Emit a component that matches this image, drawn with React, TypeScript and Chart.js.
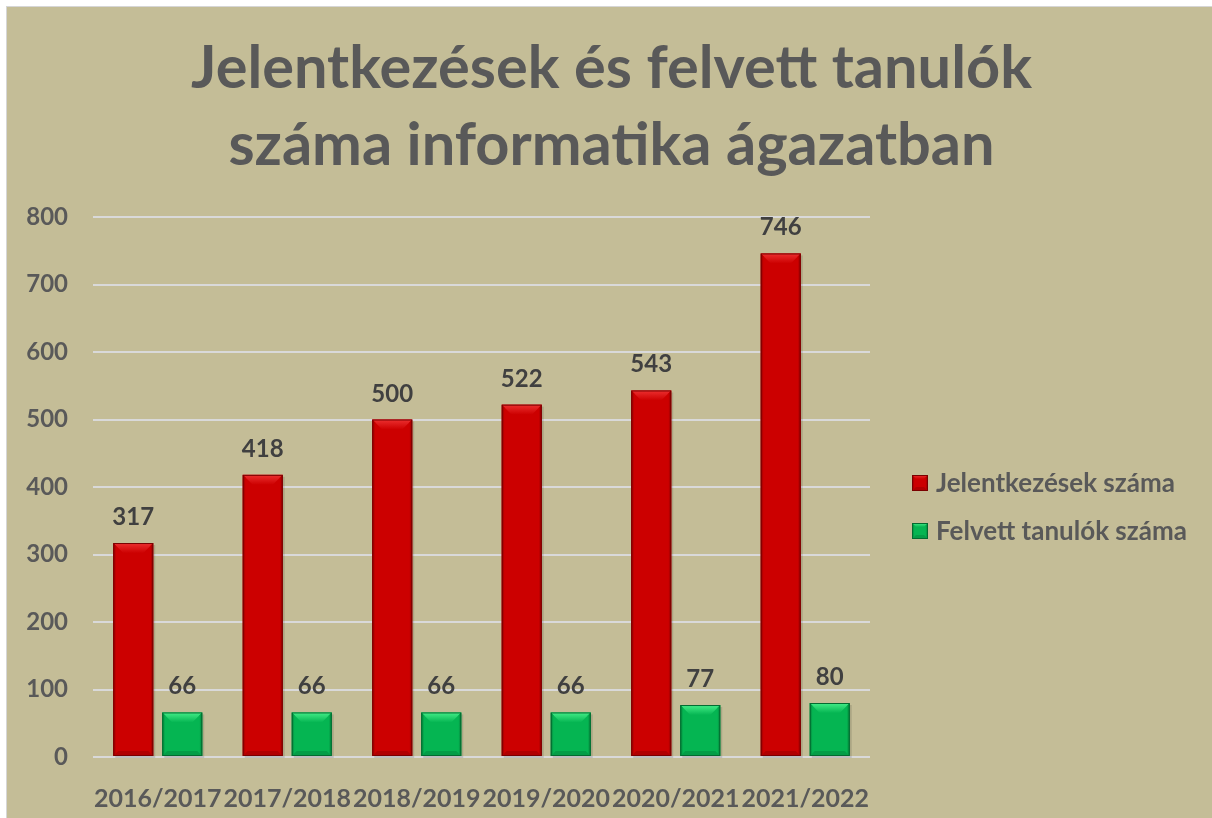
import React, { useEffect, useRef } from "react";
import { Chart, registerables } from "chart.js";

Chart.register(...registerables);

const categories = ["2016/2017", "2017/2018", "2018/2019", "2019/2020", "2020/2021", "2021/2022"];
const applications = [317, 418, 500, 522, 543, 746];
const admitted = [66, 66, 66, 66, 77, 80];
const seriesNames = ["Jelentkezések száma", "Felvett tanulók száma"];
const titleLines = ["Jelentkezések és felvett tanulók", "száma informatika ágazatban"];
const yMax = 800;
const yStep = 100;

const FONT = "Lato, 'Open Sans', sans-serif";
const TEXT = "#595959";
const LABEL = "#404040";

const palettes = [
  { body: "#cc0000", light: "#ec3030", dark: "#8f0000", edge: "#7a0000" },
  { body: "#05b552", light: "#45ee88", dark: "#04813a", edge: "#036b30" },
];

function drawBevelRect(ctx: CanvasRenderingContext2D, x0: number, y0: number, x1: number, y1: number, p: any) {
  const w = x1 - x0;
  const h = y1 - y0;
  const b = Math.min(10, w / 4, h / 3);
  ctx.save();
  ctx.fillStyle = p.body;
  ctx.fillRect(x0, y0, w, h);
  // top bevel
  const gt = ctx.createLinearGradient(0, y0, 0, y0 + b);
  gt.addColorStop(0, p.light);
  gt.addColorStop(1, p.body);
  ctx.fillStyle = gt;
  ctx.beginPath();
  ctx.moveTo(x0, y0);
  ctx.lineTo(x1, y0);
  ctx.lineTo(x1 - b, y0 + b);
  ctx.lineTo(x0 + b, y0 + b);
  ctx.closePath();
  ctx.fill();
  // side shading
  const s = Math.min(3, w / 6);
  const gl = ctx.createLinearGradient(x0, 0, x0 + s, 0);
  gl.addColorStop(0, p.dark);
  gl.addColorStop(1, p.body);
  ctx.fillStyle = gl;
  ctx.beginPath();
  ctx.moveTo(x0, y0);
  ctx.lineTo(x0 + s, y0 + s);
  ctx.lineTo(x0 + s, y1 - s);
  ctx.lineTo(x0, y1);
  ctx.closePath();
  ctx.fill();
  const gr = ctx.createLinearGradient(x1 - s, 0, x1, 0);
  gr.addColorStop(0, p.body);
  gr.addColorStop(1, p.dark);
  ctx.fillStyle = gr;
  ctx.beginPath();
  ctx.moveTo(x1, y0);
  ctx.lineTo(x1 - s, y0 + s);
  ctx.lineTo(x1 - s, y1 - s);
  ctx.lineTo(x1, y1);
  ctx.closePath();
  ctx.fill();
  // bottom bevel
  const bb = Math.min(5, h / 4);
  ctx.globalAlpha = 0.45;
  ctx.fillStyle = p.dark;
  ctx.beginPath();
  ctx.moveTo(x0, y1);
  ctx.lineTo(x1, y1);
  ctx.lineTo(x1 - bb, y1 - bb);
  ctx.lineTo(x0 + bb, y1 - bb);
  ctx.closePath();
  ctx.fill();
  ctx.globalAlpha = 1;
  ctx.strokeStyle = p.edge;
  ctx.lineWidth = 1;
  ctx.strokeRect(x0 + 0.5, y0 + 0.5, w - 1, h - 1);
  ctx.restore();
}

const bevelPlugin = {
  id: "bevelBars",
  afterDatasetsDraw(chart: any) {
    const ctx = chart.ctx;
    chart.data.datasets.forEach((ds: any, di: number) => {
      const meta = chart.getDatasetMeta(di);
      meta.data.forEach((bar: any, i: number) => {
        const { x, y, base, width } = bar.getProps(["x", "y", "base", "width"], true);
        const x0 = x - width / 2;
        const x1 = x + width / 2;
        ctx.save();
        ctx.fillStyle = "rgba(0,0,0,0.12)";
        ctx.fillRect(x0 + 2, y + 2, width, base - y);
        ctx.restore();
        drawBevelRect(ctx, x0, y, x1, base, palettes[di]);
        ctx.save();
        ctx.font = `bold 24px ${FONT}`;
        ctx.fillStyle = LABEL;
        ctx.textAlign = "center";
        ctx.textBaseline = "alphabetic";
        ctx.fillText(String(ds.data[i]), x, y - 18);
        ctx.restore();
      });
    });
  },
  afterDraw(chart: any) {
    const ctx = chart.ctx;
    // title
    ctx.save();
    ctx.font = `bold 59.5px ${FONT}`;
    ctx.fillStyle = TEXT;
    ctx.textAlign = "center";
    ctx.textBaseline = "alphabetic";
    const cx = chart.width / 2 + 2;
    ctx.fillText(titleLines[0], cx, 81);
    ctx.fillText(titleLines[1], cx, 158);
    ctx.restore();
    // legend
    const lx = 905;
    const ys = [476, 524];
    seriesNames.forEach((name, i) => {
      const y = ys[i];
      drawBevelRect(ctx, lx, y - 8, lx + 16, y + 8, palettes[i]);
      ctx.save();
      ctx.font = `bold 26px ${FONT}`;
      ctx.fillStyle = TEXT;
      ctx.textAlign = "left";
      ctx.textBaseline = "middle";
      ctx.fillText(name, lx + 24, y + 1);
      ctx.restore();
    });
  },
};

export default function App() {
  const ref = useRef<HTMLCanvasElement>(null);
  useEffect(() => {
    if (!ref.current) return;
    const chart = new Chart(ref.current, {
      type: "bar",
      data: {
        labels: categories,
        datasets: [
          {
            label: seriesNames[0],
            data: applications,
            backgroundColor: "rgba(0,0,0,0)",
            borderWidth: 0,
            categoryPercentage: 0.757,
            barPercentage: 0.816,
          },
          {
            label: seriesNames[1],
            data: admitted,
            backgroundColor: "rgba(0,0,0,0)",
            borderWidth: 0,
            categoryPercentage: 0.757,
            barPercentage: 0.816,
          },
        ],
      },
      options: {
        animation: false,
        responsive: false,
        maintainAspectRatio: false,
        layout: { padding: { top: 210, left: 0, right: 342, bottom: 0 } },
        plugins: {
          legend: { display: false },
          tooltip: { enabled: false },
          title: { display: false },
        },
        scales: {
          x: {
            grid: { display: false },
            border: { display: false },
            ticks: {
              color: TEXT,
              font: { family: FONT, size: 25, weight: "bold" },
              padding: 19,
              maxRotation: 0,
              autoSkip: false,
            },
            afterFit: (s: any) => {
              s.height = 61;
            },
          },
          y: {
            min: 0,
            max: yMax,
            grid: { color: "#d9d9d9", lineWidth: 2, drawTicks: false },
            border: { display: false },
            ticks: {
              stepSize: yStep,
              color: TEXT,
              font: { family: FONT, size: 24, weight: "bold" },
              padding: 25,
            },
            afterFit: (s: any) => {
              s.width = 86;
            },
          },
        },
      },
      plugins: [bevelPlugin],
    });
    return () => chart.destroy();
  }, []);
  return (
    <div
      style={{
        position: "fixed",
        left: 6,
        top: 6,
        width: 1205,
        height: 811,
        borderLeft: "1px solid #d6d6d6",
        borderTop: "1px solid #d6d6d6",
        background: "#c4bd97",
      }}
    >
      <canvas ref={ref} width={1205} height={811} style={{ display: "block", width: 1205, height: 811 }} />
    </div>
  );
}
